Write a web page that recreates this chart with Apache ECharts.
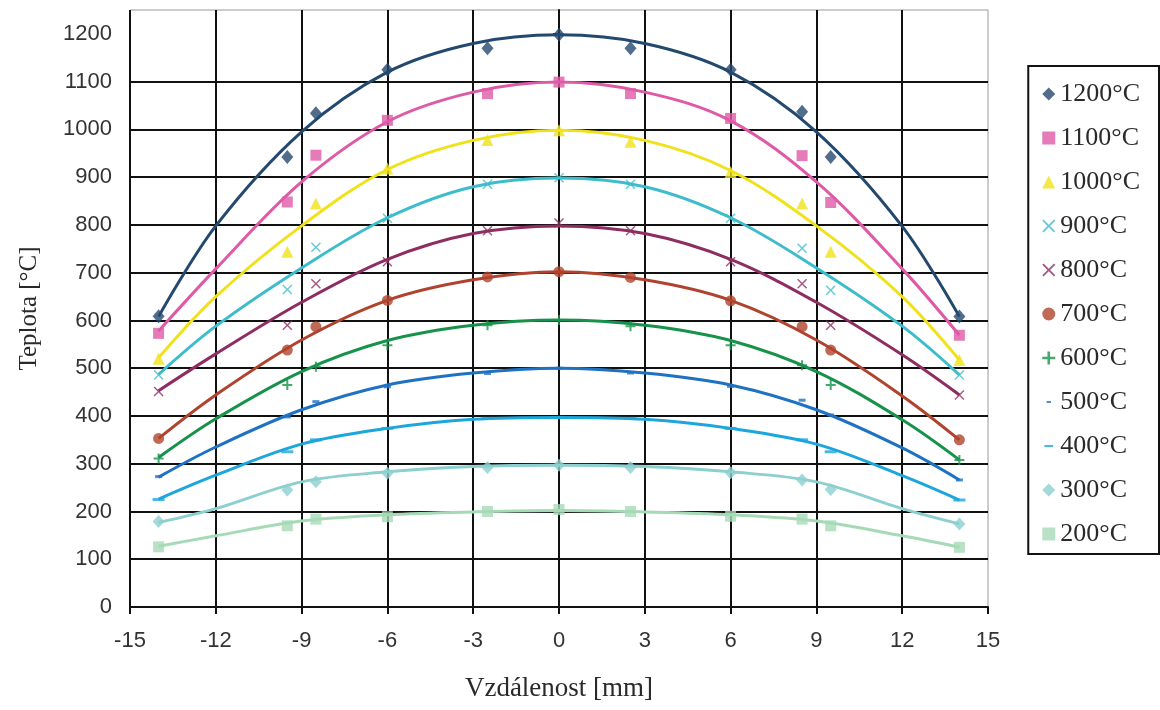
<!DOCTYPE html>
<html>
<head>
<meta charset="utf-8">
<script src="https://cdn.jsdelivr.net/npm/echarts@6/dist/echarts.min.js"></script>
<style>
html, body { margin: 0; padding: 0; background: #fff; }
#chart { width: 1160px; height: 710px; }
</style>
</head>
<body>
<div id="chart"></div>
<script>
// measured positions [mm]
const xPos = [-14, -9.5, -8.5, -6, -2.5, 0, 2.5, 6, 8.5, 9.5, 14];
const fitX = [-14, -12, -9, -6, -3, 0, 3, 6, 9, 12, 14];

const names = ["1200°C", "1100°C", "1000°C", "900°C", "800°C", "700°C",
               "600°C", "500°C", "400°C", "300°C", "200°C"];

// measured temperatures
const m1200 = [609, 942, 1034, 1125, 1170, 1198, 1170, 1125, 1037, 942, 608];
const m1100 = [573, 848, 946, 1019, 1075, 1099, 1075, 1023, 945, 847, 569];
const m1000 = [520, 744, 845, 918, 978, 998, 974, 911, 845, 744, 517];
const m900  = [486, 665, 753, 814, 885, 899, 885, 814, 751, 663, 486];
const m800  = [451, 590, 677, 723, 788, 804, 788, 723, 677, 590, 444];
const m700  = [353, 538, 587, 642, 691, 702, 690, 641, 587, 538, 350];
const m600  = [311, 465, 503, 548, 590, 601, 588, 548, 506, 465, 308];
const m500  = [273, 398, 430, 461, 489, 500, 490, 462, 433, 402, 266];
const m400  = [225, 325, 350, 374, 395, 397, 395, 374, 350, 325, 224];
const m300  = [179, 245, 262, 280, 292, 297, 292, 281, 266, 246, 174];
const m200  = [126, 170, 184, 189, 200, 204, 200, 190, 184, 170, 125];

// trend curves (read at fitX)
const f1200 = [608, 798, 995, 1120, 1180, 1198, 1180, 1120, 995, 797, 608];
const f1100 = [578, 708, 890, 1016, 1078, 1099, 1078, 1018, 890, 708, 569];
const f1000 = [522, 650, 798, 916, 977, 998, 977, 914, 798, 650, 517];
const f900  = [487, 588, 710, 815, 880, 898, 880, 815, 710, 588, 486];
const f800  = [453, 530, 638, 728, 782, 798, 782, 728, 638, 528, 444];
const f700  = [353, 444, 559, 642, 685, 702, 685, 642, 559, 442, 350];
const f600  = [313, 394, 493, 558, 590, 601, 590, 558, 493, 392, 308];
const f500  = [272, 335, 413, 465, 490, 500, 490, 465, 413, 333, 266];
const f400  = [226, 276, 341, 374, 393, 397, 393, 374, 341, 275, 224];
const f300  = [177, 206, 262, 283, 294, 297, 294, 283, 262, 206, 174];
const f200  = [127, 149, 180, 193, 199, 202, 199, 193, 180, 149, 125];

const yTicks = [0, 100, 200, 300, 400, 500, 600, 700, 800, 900, 1000, 1100, 1200];

const measured = [m1200, m1100, m1000, m900, m800, m700, m600, m500, m400, m300, m200];
const trends = [f1200, f1100, f1000, f900, f800, f700, f600, f500, f400, f300, f200];

const colors = ["#24496f", "#df5aa6", "#f0e21a", "#3dbccb", "#8e2d62", "#b0432d",
                "#17924a", "#1f72c2", "#1ca6dc", "#8ccfcf", "#a6dab6"];

const crossPath = "path://M1,0L5,4L9,0L10,1L6,5L10,9L9,10L5,6L1,10L0,9L4,5L0,1Z";
const plusPath = "path://M4,0L6,0L6,4L10,4L10,6L6,6L6,10L4,10L4,6L0,6L0,4L4,4Z";

const symbols = ["diamond", "rect", "triangle", crossPath, crossPath, "circle",
                 plusPath, "rect", "rect", "diamond", "rect"];
const sizes = [[12, 14], 11, 12, 10, 10, 11, 10, [7, 3], [12, 3], [12, 13], 11];

// legend icons (dashes get an invisible box so they are not stretched)
const dot = " M0,0L0.01,0L0.01,0.01Z M12,12L12.01,12L12.01,12.01Z";
const legendIcons = ["diamond", "rect", "triangle", crossPath, crossPath, "circle",
                     plusPath, "path://M4,5L8,5L8,7L4,7Z" + dot,
                     "path://M2,5L10,5L10,7L2,7Z" + dot, "diamond", "rect"];

const series = [];

for(let i=0;i<names.length;i++){

    series.push({
        name: names[i],
        type: "scatter",
        symbol: symbols[i],
        symbolSize: sizes[i],
        itemStyle: { color: colors[i] },
        z: 4,
        data: xPos.map((x, j) => [x, measured[i][j]])
    });

    series.push({
        name: names[i],
        type: "line",
        smooth: 0.35,
        showSymbol: false,
        lineStyle: { color: colors[i], width: 3 },
        itemStyle: { color: colors[i] },
        z: 3,
        data: fitX.map((x, j) => [x, trends[i][j]])
    });
}

const chart = echarts.init(document.getElementById("chart"));

chart.setOption({

    backgroundColor: "#fff",
    animation: false,

    grid: {
        left: 130,
        right: 172,
        top: 10,
        bottom: 103,
        show: true,
        borderColor: "#9a9a9a",
        borderWidth: 1
    },

    legend: {
        orient: "vertical",
        right: 1,
        top: 66,
        padding: [15, 19, 7, 14],
        itemWidth: 13,
        itemHeight: 13,
        itemGap: 18,
        borderColor: "#111",
        borderWidth: 2,
        backgroundColor: "#fff",
        textStyle: {
            fontFamily: "Liberation Serif",
            fontSize: 26,
            lineHeight: 26,
            color: "#2a2a2a"
        },
        data: names.map((n, i) => ({
            name: n,
            icon: legendIcons[i],
            itemStyle: { color: colors[i] }
        }))
    },

    xAxis: {
        type: "value",
        min: -15,
        max: 15,
        interval: 3,
        name: "Vzdálenost [mm]",
        nameLocation: "middle",
        nameGap: 68,
        nameTextStyle: {
            fontFamily: "Liberation Serif",
            fontSize: 27,
            color: "#2a2a2a"
        },
        axisLine: { onZero: false, lineStyle: { color: "#111", width: 2 } },
        axisTick: { show: true, inside: false, length: 7, lineStyle: { color: "#111", width: 2 } },
        axisLabel: {
            margin: 23,
            fontFamily: "Liberation Sans",
            fontSize: 22,
            color: "#333"
        },
        splitLine: {
            show: true,
            showMaxLine: false,
            lineStyle: { color: "#111", width: 2 }
        }
    },

    yAxis: {
        type: "value",
        min: 0,
        max: 1250,
        interval: 100,
        name: "Teplota [°C]",
        nameLocation: "middle",
        nameGap: 88,
        nameTextStyle: {
            fontFamily: "Liberation Serif",
            fontSize: 25,
            color: "#2a2a2a"
        },
        axisLine: { show: true, lineStyle: { color: "#111", width: 2 } },
        axisTick: {
            show: true,
            length: 6,
            customValues: yTicks,
            lineStyle: { color: "#111", width: 2 }
        },
        axisLabel: {
            margin: 18,
            customValues: yTicks,
            formatter: v => String(v),
            fontFamily: "Liberation Sans",
            fontSize: 22,
            color: "#333"
        },
        splitLine: {
            show: true,
            showMaxLine: false,
            lineStyle: { color: "#111", width: 2 }
        }
    },

    series: series
});
</script>
</body>
</html>
